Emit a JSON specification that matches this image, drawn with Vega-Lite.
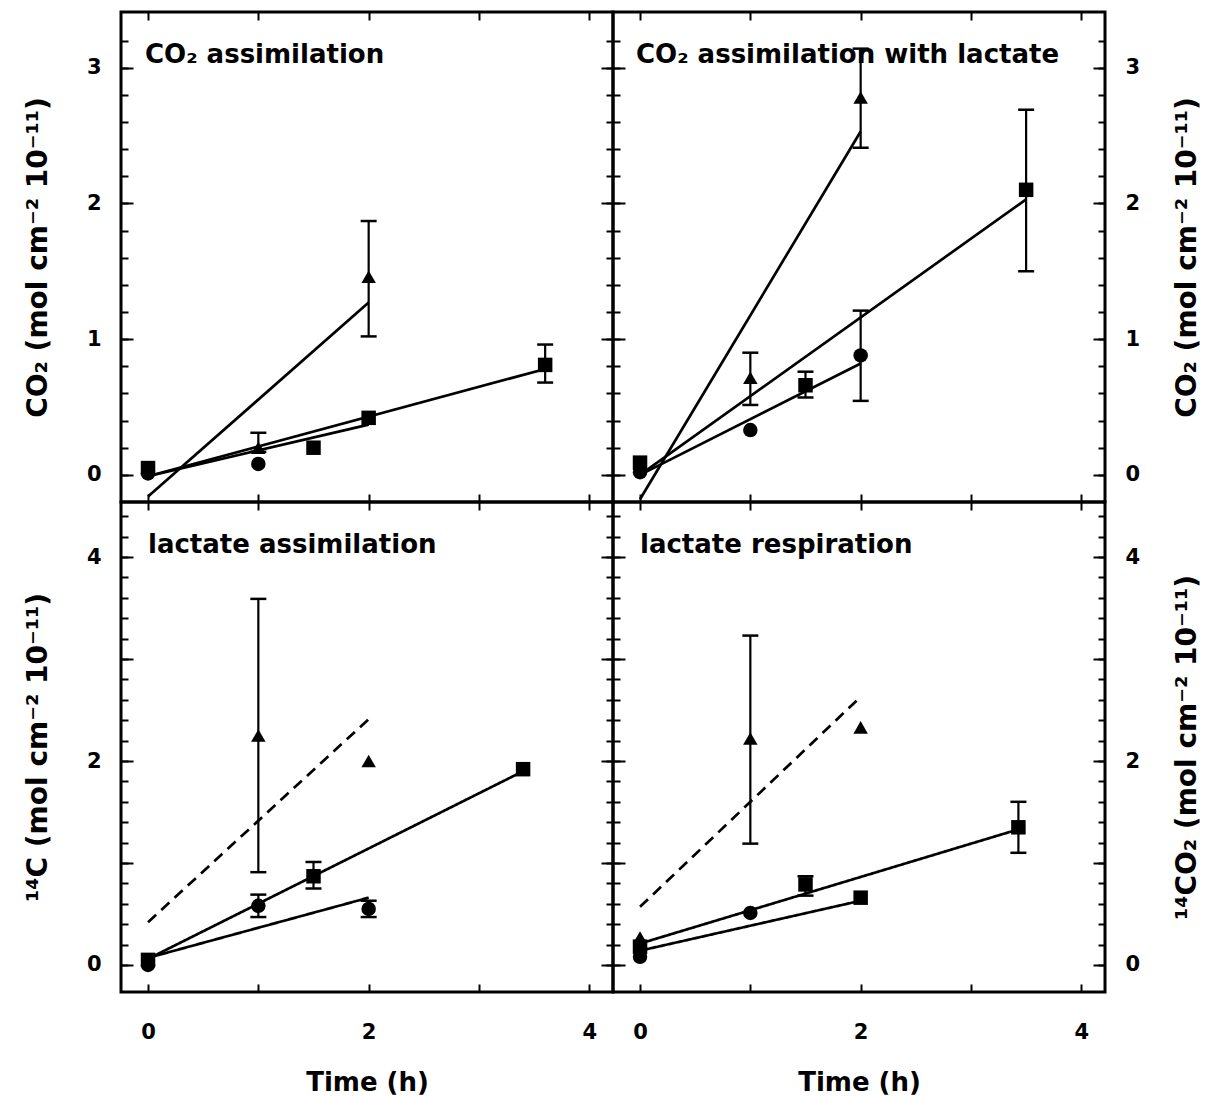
{
  "$schema": "https://vega.github.io/schema/vega-lite/v6.json",
  "padding": {"left": 22, "top": 9, "right": 5, "bottom": 5},
  "datasets": {
    "points": [
      {"panel": "A", "series": "square", "t": 0, "v": 0.05},
      {"panel": "A", "series": "circle", "t": 0, "v": 0.01},
      {"panel": "A", "series": "triangle", "t": 1, "v": 0.2},
      {"panel": "A", "series": "circle", "t": 1, "v": 0.08},
      {"panel": "A", "series": "square", "t": 1.5, "v": 0.2},
      {"panel": "A", "series": "triangle", "t": 2, "v": 1.46},
      {"panel": "A", "series": "square", "t": 2, "v": 0.42},
      {"panel": "A", "series": "square", "t": 3.6, "v": 0.81},
      {"panel": "B", "series": "square", "t": 0, "v": 0.09},
      {"panel": "B", "series": "circle", "t": 0, "v": 0.02},
      {"panel": "B", "series": "triangle", "t": 1, "v": 0.715},
      {"panel": "B", "series": "circle", "t": 1, "v": 0.33},
      {"panel": "B", "series": "square", "t": 1.5, "v": 0.66},
      {"panel": "B", "series": "triangle", "t": 2, "v": 2.78},
      {"panel": "B", "series": "circle", "t": 2, "v": 0.88},
      {"panel": "B", "series": "square", "t": 3.5, "v": 2.1},
      {"panel": "C", "series": "square", "t": 0, "v": 0.05},
      {"panel": "C", "series": "circle", "t": 0, "v": 0.0},
      {"panel": "C", "series": "triangle", "t": 1, "v": 2.25},
      {"panel": "C", "series": "circle", "t": 1, "v": 0.58},
      {"panel": "C", "series": "square", "t": 1.5, "v": 0.87},
      {"panel": "C", "series": "triangle", "t": 2, "v": 2.0},
      {"panel": "C", "series": "circle", "t": 2, "v": 0.55},
      {"panel": "C", "series": "square", "t": 3.4, "v": 1.92},
      {"panel": "D", "series": "triangle", "t": 0, "v": 0.27},
      {"panel": "D", "series": "square", "t": 0, "v": 0.18},
      {"panel": "D", "series": "circle", "t": 0, "v": 0.08},
      {"panel": "D", "series": "triangle", "t": 1, "v": 2.22},
      {"panel": "D", "series": "circle", "t": 1, "v": 0.51},
      {"panel": "D", "series": "square", "t": 1.5, "v": 0.79},
      {"panel": "D", "series": "triangle", "t": 2, "v": 2.33},
      {"panel": "D", "series": "square", "t": 2, "v": 0.66},
      {"panel": "D", "series": "square", "t": 3.43, "v": 1.35}
    ],
    "errors": [
      {"panel": "A", "t": 1, "lo": 0.17, "hi": 0.31},
      {"panel": "A", "t": 2, "lo": 1.02, "hi": 1.87},
      {"panel": "A", "t": 3.6, "lo": 0.68, "hi": 0.96},
      {"panel": "B", "t": 1, "lo": 0.515, "hi": 0.9},
      {"panel": "B", "t": 1.5, "lo": 0.57, "hi": 0.76},
      {"panel": "B", "t": 2, "lo": 0.545, "hi": 1.21},
      {"panel": "B", "t": 2, "lo": 2.41, "hi": 3.14},
      {"panel": "B", "t": 3.5, "lo": 1.5, "hi": 2.69},
      {"panel": "C", "t": 1, "lo": 0.91, "hi": 3.59},
      {"panel": "C", "t": 1, "lo": 0.47, "hi": 0.69},
      {"panel": "C", "t": 1.5, "lo": 0.75, "hi": 1.01},
      {"panel": "C", "t": 2, "lo": 0.47, "hi": 0.63},
      {"panel": "D", "t": 1, "lo": 1.19, "hi": 3.23},
      {"panel": "D", "t": 1.5, "lo": 0.68, "hi": 0.87},
      {"panel": "D", "t": 3.43, "lo": 1.1, "hi": 1.6}
    ],
    "lines": [
      {"panel": "A", "series": "triangle", "t": 0, "v": -0.16},
      {"panel": "A", "series": "triangle", "t": 2, "v": 1.27},
      {"panel": "A", "series": "square", "t": 0, "v": -0.01},
      {"panel": "A", "series": "square", "t": 3.6, "v": 0.78},
      {"panel": "A", "series": "circle", "t": 0, "v": -0.01},
      {"panel": "A", "series": "circle", "t": 2, "v": 0.37},
      {"panel": "B", "series": "triangle", "t": 0, "v": -0.18},
      {"panel": "B", "series": "triangle", "t": 2, "v": 2.53},
      {"panel": "B", "series": "square", "t": 0, "v": 0.0},
      {"panel": "B", "series": "square", "t": 3.5, "v": 2.03},
      {"panel": "B", "series": "circle", "t": 0, "v": 0.0},
      {"panel": "B", "series": "circle", "t": 2, "v": 0.82},
      {"panel": "C", "series": "triangle", "t": 0, "v": 0.42},
      {"panel": "C", "series": "triangle", "t": 2, "v": 2.41},
      {"panel": "C", "series": "square", "t": 0, "v": 0.06},
      {"panel": "C", "series": "square", "t": 3.4, "v": 1.9},
      {"panel": "C", "series": "circle", "t": 0, "v": 0.07},
      {"panel": "C", "series": "circle", "t": 2, "v": 0.66},
      {"panel": "D", "series": "triangle", "t": 0, "v": 0.57},
      {"panel": "D", "series": "triangle", "t": 2, "v": 2.63},
      {"panel": "D", "series": "square", "t": 0, "v": 0.21},
      {"panel": "D", "series": "square", "t": 3.43, "v": 1.33},
      {"panel": "D", "series": "circle", "t": 0, "v": 0.14},
      {"panel": "D", "series": "circle", "t": 2, "v": 0.63}
    ]
  },
  "concat": [
    {
      "width": 492, "height": 490,
      "title": {"text": "CO₂ assimilation", "anchor": "start", "frame": "group", "offset": -78, "dx": 24, "baseline": "alphabetic"},
      "resolve": {"axis": {"x": "independent", "y": "independent"}},
      "layer": [
        {
          "data": {"name": "lines"}, "transform": [{"filter": "datum.panel === 'A'"}],
          "mark": {"type": "line", "strokeWidth": 2.7, "color": "black"},
          "encoding": {
            "x": {"field": "t", "type": "quantitative", "scale": {"domain": [-0.245, 4.215], "nice": false, "zero": false},
                  "axis": {"orient": "bottom", "values": [0, 1, 2, 3, 4], "labels": false, "title": null, "tickSize": -8}},
            "y": {"field": "v", "type": "quantitative", "scale": {"domain": [-0.2, 3.41], "nice": false, "zero": false},
                  "axis": {"orient": "left", "values": [0, 1, 2, 3], "tickSize": -12, "labelPadding": 32, "title": "CO₂ (mol cm⁻² 10⁻¹¹)", "titlePadding": 34}},
            "detail": {"field": "series"}
          }
        },
        {
          "data": {"name": "errors"}, "transform": [{"filter": "datum.panel === 'A'"}],
          "mark": {"type": "rule", "strokeWidth": 2.2, "color": "black"},
          "encoding": {
            "x": {"field": "t", "type": "quantitative", "axis": {"orient": "top", "values": [0, 1, 2, 3, 4], "labels": false, "title": null, "tickSize": -8}},
            "y": {"field": "lo", "type": "quantitative", "axis": {"orient": "left", "values": [0, 0.2, 0.4, 0.6, 0.8, 1, 1.2, 1.4, 1.6, 1.8, 2, 2.2, 2.4, 2.6, 2.8, 3, 3.2], "labels": false, "title": null, "tickSize": -7}},
            "y2": {"field": "hi"}
          }
        },
        {
          "data": {"name": "errors"}, "transform": [{"filter": "datum.panel === 'A'"}, {"fold": ["lo", "hi"], "as": ["end", "val"]}],
          "mark": {"type": "tick", "orient": "horizontal", "size": 16, "thickness": 2.5, "color": "black", "opacity": 1},
          "encoding": {
            "x": {"field": "t", "type": "quantitative", "axis": null},
            "y": {"field": "val", "type": "quantitative", "axis": {"orient": "right", "values": [0, 1, 2, 3], "labels": false, "title": null, "tickSize": -12}}
          }
        },
        {
          "data": {"name": "points"}, "transform": [{"filter": "datum.panel === 'A'"}],
          "mark": {"type": "point", "filled": true, "size": 210, "opacity": 1, "color": "black"},
          "encoding": {
            "x": {"field": "t", "type": "quantitative", "axis": null},
            "y": {"field": "v", "type": "quantitative", "axis": {"orient": "right", "values": [0, 0.2, 0.4, 0.6, 0.8, 1, 1.2, 1.4, 1.6, 1.8, 2, 2.2, 2.4, 2.6, 2.8, 3, 3.2], "labels": false, "title": null, "tickSize": -7}},
            "shape": {"field": "series", "type": "nominal", "scale": {"domain": ["triangle", "square", "circle"], "range": ["triangle-up", "square", "circle"]}, "legend": null}
          }
        }
      ]
    },
    {
      "width": 492, "height": 490,
      "title": {"text": "CO₂ assimilation with lactate", "anchor": "start", "frame": "group", "offset": -78, "dx": 23, "baseline": "alphabetic"},
      "resolve": {"axis": {"x": "independent", "y": "independent"}},
      "layer": [
        {
          "data": {"name": "lines"}, "transform": [{"filter": "datum.panel === 'B'"}],
          "mark": {"type": "line", "strokeWidth": 2.7, "color": "black"},
          "encoding": {
            "x": {"field": "t", "type": "quantitative", "scale": {"domain": [-0.245, 4.215], "nice": false, "zero": false},
                  "axis": {"orient": "bottom", "values": [0, 1, 2, 3, 4], "labels": false, "title": null, "tickSize": -8}},
            "y": {"field": "v", "type": "quantitative", "scale": {"domain": [-0.2, 3.41], "nice": false, "zero": false},
                  "axis": {"orient": "left", "values": [0, 1, 2, 3], "tickSize": -12, "labels": false, "title": null}},
            "detail": {"field": "series"}
          }
        },
        {
          "data": {"name": "errors"}, "transform": [{"filter": "datum.panel === 'B'"}],
          "mark": {"type": "rule", "strokeWidth": 2.2, "color": "black"},
          "encoding": {
            "x": {"field": "t", "type": "quantitative", "axis": {"orient": "top", "values": [0, 1, 2, 3, 4], "labels": false, "title": null, "tickSize": -8}},
            "y": {"field": "lo", "type": "quantitative", "axis": {"orient": "left", "values": [0, 0.2, 0.4, 0.6, 0.8, 1, 1.2, 1.4, 1.6, 1.8, 2, 2.2, 2.4, 2.6, 2.8, 3, 3.2], "labels": false, "title": null, "tickSize": -7}},
            "y2": {"field": "hi"}
          }
        },
        {
          "data": {"name": "errors"}, "transform": [{"filter": "datum.panel === 'B'"}, {"fold": ["lo", "hi"], "as": ["end", "val"]}],
          "mark": {"type": "tick", "orient": "horizontal", "size": 16, "thickness": 2.5, "color": "black", "opacity": 1},
          "encoding": {
            "x": {"field": "t", "type": "quantitative", "axis": null},
            "y": {"field": "val", "type": "quantitative", "axis": {"orient": "right", "values": [0, 1, 2, 3], "tickSize": -12, "labelPadding": 32, "title": "CO₂ (mol cm⁻² 10⁻¹¹)", "titlePadding": 34, "titleAngle": 270, "titleBaseline": "top"}}
          }
        },
        {
          "data": {"name": "points"}, "transform": [{"filter": "datum.panel === 'B'"}],
          "mark": {"type": "point", "filled": true, "size": 210, "opacity": 1, "color": "black"},
          "encoding": {
            "x": {"field": "t", "type": "quantitative", "axis": null},
            "y": {"field": "v", "type": "quantitative", "axis": {"orient": "right", "values": [0, 0.2, 0.4, 0.6, 0.8, 1, 1.2, 1.4, 1.6, 1.8, 2, 2.2, 2.4, 2.6, 2.8, 3, 3.2], "labels": false, "title": null, "tickSize": -7}},
            "shape": {"field": "series", "type": "nominal", "scale": {"domain": ["triangle", "square", "circle"], "range": ["triangle-up", "square", "circle"]}, "legend": null}
          }
        }
      ]
    },
    {
      "width": 492, "height": 490,
      "title": {"text": "lactate assimilation", "anchor": "start", "frame": "group", "offset": -78, "dx": 27, "baseline": "alphabetic"},
      "resolve": {"axis": {"x": "independent", "y": "independent"}},
      "layer": [
        {
          "data": {"name": "lines"}, "transform": [{"filter": "datum.panel === 'C'"}],
          "mark": {"type": "line", "strokeWidth": 2.7, "color": "black"},
          "encoding": {
            "x": {"field": "t", "type": "quantitative", "scale": {"domain": [-0.245, 4.215], "nice": false, "zero": false},
                  "axis": {"orient": "bottom", "values": [0, 1, 2, 3, 4], "labelExpr": "datum.value % 2 === 0 ? datum.label : ''", "labelPadding": 37, "title": "Time (h)", "titleFontSize": 26, "titlePadding": 27, "tickSize": -8}},
            "y": {"field": "v", "type": "quantitative", "scale": {"domain": [-0.265, 4.54], "nice": false, "zero": false},
                  "axis": {"orient": "left", "values": [0, 1, 2, 3, 4], "labelExpr": "datum.value % 2 === 0 ? datum.label : ''", "tickSize": -12, "labelPadding": 32, "title": "¹⁴C (mol cm⁻² 10⁻¹¹)", "titlePadding": 34}},
            "strokeDash": {"field": "series", "type": "nominal", "scale": {"domain": ["triangle", "square", "circle"], "range": [[11, 7], [1, 0], [1, 0]]}, "legend": null}
          }
        },
        {
          "data": {"name": "errors"}, "transform": [{"filter": "datum.panel === 'C'"}],
          "mark": {"type": "rule", "strokeWidth": 2.2, "color": "black"},
          "encoding": {
            "x": {"field": "t", "type": "quantitative", "axis": {"orient": "top", "values": [0, 1, 2, 3, 4], "labels": false, "title": null, "tickSize": -8}},
            "y": {"field": "lo", "type": "quantitative", "axis": {"orient": "left", "values": [0, 0.2, 0.4, 0.6, 0.8, 1, 1.2, 1.4, 1.6, 1.8, 2, 2.2, 2.4, 2.6, 2.8, 3, 3.2, 3.4, 3.6, 3.8, 4, 4.2, 4.4], "labels": false, "title": null, "tickSize": -7}},
            "y2": {"field": "hi"}
          }
        },
        {
          "data": {"name": "errors"}, "transform": [{"filter": "datum.panel === 'C'"}, {"fold": ["lo", "hi"], "as": ["end", "val"]}],
          "mark": {"type": "tick", "orient": "horizontal", "size": 16, "thickness": 2.5, "color": "black", "opacity": 1},
          "encoding": {
            "x": {"field": "t", "type": "quantitative", "axis": null},
            "y": {"field": "val", "type": "quantitative", "axis": {"orient": "right", "values": [0, 1, 2, 3, 4], "labels": false, "title": null, "tickSize": -12}}
          }
        },
        {
          "data": {"name": "points"}, "transform": [{"filter": "datum.panel === 'C'"}],
          "mark": {"type": "point", "filled": true, "size": 210, "opacity": 1, "color": "black"},
          "encoding": {
            "x": {"field": "t", "type": "quantitative", "axis": null},
            "y": {"field": "v", "type": "quantitative", "axis": {"orient": "right", "values": [0, 0.2, 0.4, 0.6, 0.8, 1, 1.2, 1.4, 1.6, 1.8, 2, 2.2, 2.4, 2.6, 2.8, 3, 3.2, 3.4, 3.6, 3.8, 4, 4.2, 4.4], "labels": false, "title": null, "tickSize": -7}},
            "shape": {"field": "series", "type": "nominal", "scale": {"domain": ["triangle", "square", "circle"], "range": ["triangle-up", "square", "circle"]}, "legend": null}
          }
        }
      ]
    },
    {
      "width": 492, "height": 490,
      "title": {"text": "lactate respiration", "anchor": "start", "frame": "group", "offset": -78, "dx": 27, "baseline": "alphabetic"},
      "resolve": {"axis": {"x": "independent", "y": "independent"}},
      "layer": [
        {
          "data": {"name": "lines"}, "transform": [{"filter": "datum.panel === 'D'"}],
          "mark": {"type": "line", "strokeWidth": 2.7, "color": "black"},
          "encoding": {
            "x": {"field": "t", "type": "quantitative", "scale": {"domain": [-0.245, 4.215], "nice": false, "zero": false},
                  "axis": {"orient": "bottom", "values": [0, 1, 2, 3, 4], "labelExpr": "datum.value % 2 === 0 ? datum.label : ''", "labelPadding": 37, "title": "Time (h)", "titleFontSize": 26, "titlePadding": 27, "tickSize": -8}},
            "y": {"field": "v", "type": "quantitative", "scale": {"domain": [-0.265, 4.54], "nice": false, "zero": false},
                  "axis": {"orient": "left", "values": [0, 1, 2, 3, 4], "labels": false, "title": null, "tickSize": -12}},
            "strokeDash": {"field": "series", "type": "nominal", "scale": {"domain": ["triangle", "square", "circle"], "range": [[11, 7], [1, 0], [1, 0]]}, "legend": null}
          }
        },
        {
          "data": {"name": "errors"}, "transform": [{"filter": "datum.panel === 'D'"}],
          "mark": {"type": "rule", "strokeWidth": 2.2, "color": "black"},
          "encoding": {
            "x": {"field": "t", "type": "quantitative", "axis": {"orient": "top", "values": [0, 1, 2, 3, 4], "labels": false, "title": null, "tickSize": -8}},
            "y": {"field": "lo", "type": "quantitative", "axis": {"orient": "left", "values": [0, 0.2, 0.4, 0.6, 0.8, 1, 1.2, 1.4, 1.6, 1.8, 2, 2.2, 2.4, 2.6, 2.8, 3, 3.2, 3.4, 3.6, 3.8, 4, 4.2, 4.4], "labels": false, "title": null, "tickSize": -7}},
            "y2": {"field": "hi"}
          }
        },
        {
          "data": {"name": "errors"}, "transform": [{"filter": "datum.panel === 'D'"}, {"fold": ["lo", "hi"], "as": ["end", "val"]}],
          "mark": {"type": "tick", "orient": "horizontal", "size": 16, "thickness": 2.5, "color": "black", "opacity": 1},
          "encoding": {
            "x": {"field": "t", "type": "quantitative", "axis": null},
            "y": {"field": "val", "type": "quantitative", "axis": {"orient": "right", "values": [0, 1, 2, 3, 4], "labelExpr": "datum.value % 2 === 0 ? datum.label : ''", "tickSize": -12, "labelPadding": 32, "title": "¹⁴CO₂ (mol cm⁻² 10⁻¹¹)", "titlePadding": 34, "titleAngle": 270, "titleBaseline": "top"}}
          }
        },
        {
          "data": {"name": "points"}, "transform": [{"filter": "datum.panel === 'D'"}],
          "mark": {"type": "point", "filled": true, "size": 210, "opacity": 1, "color": "black"},
          "encoding": {
            "x": {"field": "t", "type": "quantitative", "axis": null},
            "y": {"field": "v", "type": "quantitative", "axis": {"orient": "right", "values": [0, 0.2, 0.4, 0.6, 0.8, 1, 1.2, 1.4, 1.6, 1.8, 2, 2.2, 2.4, 2.6, 2.8, 3, 3.2, 3.4, 3.6, 3.8, 4, 4.2, 4.4], "labels": false, "title": null, "tickSize": -7}},
            "shape": {"field": "series", "type": "nominal", "scale": {"domain": ["triangle", "square", "circle"], "range": ["triangle-up", "square", "circle"]}, "legend": null}
          }
        }
      ]
    }
  ],
  "columns": 2,
  "spacing": 0,
  "bounds": "flush",
  "config": {
    "font": "DejaVu Sans",
    "background": "white",
    "view": {"stroke": "black", "strokeWidth": 3},
    "axis": {
      "domain": false, "grid": false,
      "tickColor": "black", "tickWidth": 2,
      "labelFont": "DejaVu Sans", "labelFontWeight": "bold", "labelFontSize": 21, "labelColor": "black",
      "titleFont": "DejaVu Sans", "titleFontWeight": "bold", "titleFontSize": 28, "titleColor": "black"
    },
    "title": {"font": "DejaVu Sans", "fontWeight": "bold", "fontSize": 26, "color": "black"}
  }
}
